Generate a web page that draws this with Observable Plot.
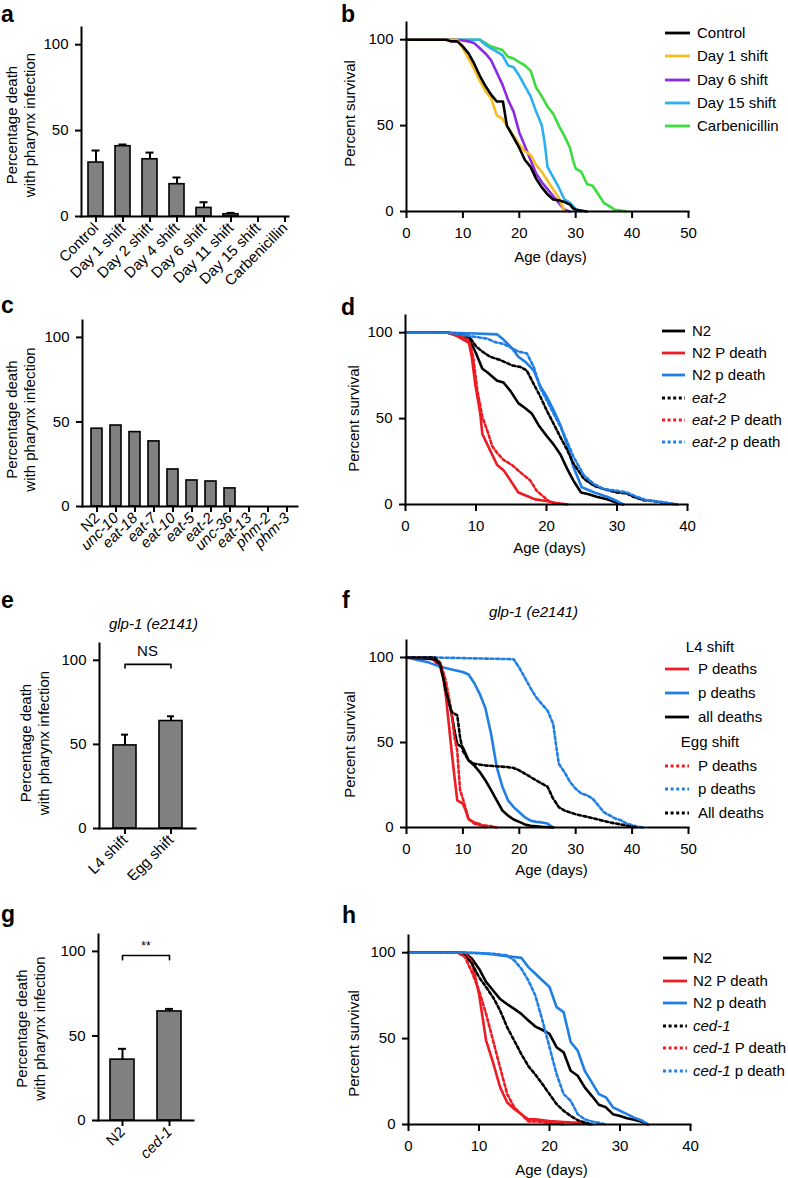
<!DOCTYPE html>
<html><head><meta charset="utf-8">
<script src="https://cdn.jsdelivr.net/npm/d3@7"></script>
<script src="https://cdn.jsdelivr.net/npm/@observablehq/plot@0.6"></script>
<style>
body{margin:0;background:#fff;}
#fig{position:relative;width:788px;height:1178px;overflow:hidden;font-family:Arial,"Liberation Sans",Helvetica,sans-serif;color:#000;}
.panel{position:absolute;}
.letter{position:absolute;font-weight:bold;font-size:23px;line-height:23px;}
.lg{position:absolute;font-size:15px;line-height:18px;white-space:nowrap;}
.sw{position:absolute;}
</style></head>
<body><div id="fig"></div>
<script>
const FONT = 'Arial, "Liberation Sans", Helvetica, sans-serif';
const RED = "#ec1c24", BLUE = "#1f7fe5", BLACK = "#000";

// ---- panel a ----
const shiftGroups = ["Control","Day 1 shift","Day 2 shift","Day 4 shift","Day 6 shift","Day 11 shift","Day 15 shift","Carbenicillin"];
const shiftPharynx = [31.4,40.9,33.3,18.8,5,1.3,0,0];
const shiftPharynxErr = [38.4,41.9,37.2,22.7,8.3,2.1,0,0];

// ---- panel b ----
const bControl = [[0,100],[7,100],[8,99],[9,99],[10,96],[11,92],[12,86],[13,79],[14,73],[15,68],[16,64],[17.1,64],[17.8,50],[19,43],[20,37],[21,30],[22,26],[23,19],[24,14],[25,10],[26,7],[27,6.5],[28,5.5],[29,4],[29.5,2],[30,1],[32,0]];
const bDay1 = [[0,100],[9,100],[10,95],[11,89],[12,83],[13,76],[14,70],[15,66],[16,56],[17,54],[18,49],[19,44],[20,39],[21,35],[22,33],[23,27],[24,23],[25,18],[26,13],[27,8],[28,0]];
const bDay6 = [[0,100],[9,100],[10,99.5],[11,99],[12,98],[13,95],[14,92],[15,88],[16,81],[17,74],[18,65],[19,58],[20,46],[21,38],[22,30],[23,22],[24,17],[25,13],[26,9],[27,5],[28,1],[29,0]];
const bDay15 = [[0,100],[13,100],[14,97],[15,95],[16,93],[17,91],[18,85],[19,84],[20,79],[21,73],[22,67],[23,58],[24,50],[24.5,40],[25,26],[26,20],[27,14],[28,7],[29,5],[30,1.5],[31,0]];
const bCarb = [[0,100],[13,100],[14,98],[15,96],[16,95],[17,94],[18,90],[19,89],[20,87],[21,85],[22,82],[23,72],[24,67],[25,61],[26,57],[27,50],[28,44],[29,37],[29.5,30],[30,25],[31,23],[32,16],[33,15],[34,10],[35,5],[36,3],[37,1],[38,0.5],[39,0]];

// ---- panel c ----
const mutants = ["N2","unc-10","eat-18","eat-7","eat-10","eat-5","eat-2","unc-36","eat-13","phm-2","phm-3"];
const mutantPharynx = [46,47.9,44,38.5,21.9,15.4,14.8,10.7,0,0,0];

// ---- panel d ----
const dN2 = [[0,100],[6,100],[9,96.5],[10,88],[10.9,79],[11.6,77],[13,72],[13.9,71],[14.9,66],[16,59],[17,56],[17.9,53],[18.9,46],[20,40],[21,35],[22,29],[22.9,21],[23.8,14],[24.9,7],[26,6],[27.1,4.5],[28.6,3],[30,1],[30.9,0]];
const dN2P = [[0,100],[6.1,100],[7.3,98],[9,94],[9.4,86],[9.9,70],[10.6,53],[10.9,41],[11.6,35],[13,23],[13.9,20],[14.9,14],[16,7],[17.5,4.5],[18.4,3],[20,2],[21.2,1],[23,0]];
const dN2p = [[0,100],[6.1,100],[10,99.5],[13,99],[13.9,96],[15.1,91],[16,86],[17,83],[18.2,78],[19.1,69],[20,63],[21,55],[22,46],[22.9,35],[23.8,22],[25,10],[26.2,8],[27.1,6.5],[28.6,4.5],[30,2],[30.9,0]];
const dEat2 = [[0,100],[6.1,100],[9,98],[10,92],[10.9,89],[12,86],[13.5,84],[15.1,81],[16.3,80],[17.2,78],[18.2,70],[19.1,63],[20,55],[21,47],[22,39],[22.9,32],[23.8,24],[25.3,15],[26.7,11],[28.1,9],[30,7],[31.4,6.4],[32.3,4.5],[33.8,2.5],[35.2,2],[36.6,1],[38.5,0]];
const dEat2P = [[0,100],[6.1,100],[8,98],[9,95.5],[9.6,86],[10.2,66],[10.9,51],[11.6,43],[12.3,34],[13,30],[13.9,26],[15.1,23],[16.5,18],[17.7,14],[18.6,8],[19.6,4.5],[20.3,2],[21.5,0]];
const dEat2p = [[0,100],[6.1,100],[10,97.5],[11.6,96.5],[12.7,94.5],[13.9,93.5],[15.1,91],[16,89],[17.2,88],[18.2,80],[19.1,68],[20,61],[21,53],[22,45],[22.9,37],[23.8,28],[25.3,17],[26.7,12],[28.1,9],[30,8],[31.4,7],[32.8,4.5],[34.2,2.5],[36.6,1.3],[38.5,0]];

// ---- panel e ----
const glpGroups = ["L4 shift","Egg shift"];
const glpPharynx = [49.4,63.9];
const glpPharynxErr = [55.8,66.7];
const glpBracket = [["L4 shift",95.5],["L4 shift",97.6],["Egg shift",97.6],["Egg shift",95.5]];

// ---- panel f ----
const fL4P = [[0,100],[4,100],[5,98],[6,94],[6.5,88],[7,77],[7.5,61],[8,45],[8.5,30],[9,16],[10,14],[10.5,10],[11,5],[12,3],[13,2],[14,0]];
const fL4p = [[0,100],[2,98.5],[4,97],[6,94.5],[8,93],[10,91.5],[11,90],[12,85],[13,78.5],[14,70],[15,55],[16,35.5],[17,24],[18,16],[19,12],[20,9],[21,6],[22,4],[23,3.3],[24,3],[25,2.3],[26,0]];
const fL4All = [[0,100],[5,99],[6,96],[7,82],[8,67],[8.5,57],[9,49],[10,47],[11,39.5],[12,36.5],[13,32.6],[14,27.7],[15,22],[16,16],[17,10],[18,7],[19,4.7],[20,3.3],[21,1.8],[22,1],[24,0.4],[26,0]];
const fEggP = [[0,100],[5,100],[6,97],[7,86],[8,67],[8.5,53],[9,45],[9.5,22],[10,17],[11,5],[12,2.3],[13,1.4],[14,1.2],[15,0.8],[16,0]];
const fEggp = [[0,100],[5,100],[19,99],[20,94],[21,88],[22,82],[23,76.5],[24,72.6],[25,68.8],[26,61],[26.5,49],[27,37.5],[28,32.6],[29,26.8],[30,22.8],[31,20],[32,19],[33,17],[34,13],[35,9],[36,7.2],[37,5.3],[38,4.3],[39,2.3],[40,1.4],[41,0.4],[42,0]];
const fEggAll = [[0,100],[5,100],[6,96],[7,80],[8,68],[9,66],[9.5,53],[10,45],[11,39.5],[12,37.5],[14,36.5],[16,36],[18,35.5],[19,35],[20,33.6],[22,29.7],[24,25.8],[25,24],[26,17],[27,12],[28,10],[30,7.8],[32,6.3],[34,4.7],[36,3],[38,1.8],[40,0.4],[41,0]];

// ---- panel g ----
const cedGroups = ["N2","ced-1"];
const cedPharynx = [36,64.5];
const cedPharynxErr = [42.4,66];
const cedBracket = [["N2",95],["N2",97.6],["ced-1",97.6],["ced-1",95]];

// ---- panel h ----
const hN2 = [[0,100],[8,100],[9,96.5],[10,90.7],[11,83],[12,78],[13,73],[14,70],[15,67.3],[16,64.4],[17,60.5],[18,57],[19,55],[20,52.7],[21,45],[22,42],[23,31.3],[24,28.4],[25,21.6],[26,16.7],[27,11.5],[28,10],[29,6],[30,5],[31,3.7],[32,2.7],[33,1.7],[34,0]];
const hN2P = [[0,100],[8,100],[9,94.5],[10,76],[11,49],[12,36],[13,21.6],[14,12.8],[15,9],[16,6],[17,3],[18,3],[20,2],[22,1.5],[24,1],[26,0]];
const hN2p = [[0,100],[8,100],[10,99.8],[12,99],[14,98],[16,97],[17,91.6],[18,87.7],[19,83.8],[20,80],[21,68.3],[22,65.4],[23,48],[24,43],[25,31.3],[26,24.5],[27,17.7],[28,15.8],[29,10],[30,8],[31,6],[32,4],[33,2.5],[34,0]];
const hCed = [[0,100],[7,100],[8,98.4],[9,93.6],[10,85.8],[11,80],[12,74],[13,66.3],[14,56.6],[15,48.8],[16,41],[17,34],[18,29],[19,23.5],[20,17.7],[21,11.9],[22,8],[23,5],[24,2.5],[25,1.2],[26,0]];
const hCedP = [[0,100],[7,100],[8,97.5],[9,88.7],[10,78],[11,64.4],[12,48.8],[13,33],[14,17.7],[15,10],[16,6],[17,1.8],[18,1.8],[20,1],[22,0]];
const hCedp = [[0,100],[8,100],[12,99.4],[14,98.4],[15,95.5],[16,90.7],[17,83.8],[18,75],[19,60.5],[20,45],[21,29.4],[22,17.7],[23,13.8],[24,6],[25,3],[26,1.8],[27,1],[28,0]];

const fig = document.getElementById("fig");

function place(el, left, top) {
  el.classList.add("panel");
  el.style.left = left + "px";
  el.style.top = top + "px";
  fig.appendChild(el);
  return el;
}

function yLabel(text, dx, dy) {
  return Plot.text([text], {text: d => d, frameAnchor: "left", textAnchor: "middle", lineAnchor: "middle",
    rotate: -90, dx, dy, lineHeight: 1.2});
}

function barPanel(o) {
  const idx = o.cats.map((_, i) => i);
  const marks = [
    Plot.barY(idx, {x: i => o.cats[i], y: i => o.vals[i], fill: "#808080", stroke: "black", strokeWidth: 1.6}),
  ];
  if (o.errs) {
    const capInset = (o.bw - 8) / 2;
    marks.push(Plot.ruleX(idx.filter(i => o.errs[i] > o.vals[i]), {x: i => o.cats[i], y1: i => o.vals[i], y2: i => o.errs[i], strokeWidth: 2}));
    marks.push(Plot.tickY(idx.filter(i => o.errs[i] > o.vals[i]), {x: i => o.cats[i], y: i => o.errs[i], strokeWidth: 2, insetLeft: capInset, insetRight: capInset}));
  }
  marks.push(
    Plot.axisY({ticks: [0, 50, 100], tickSize: 6, tickPadding: 7, label: null, strokeWidth: 2}),
    Plot.axisX({tickRotate: -45, tickSize: 6, tickPadding: 3, label: null, strokeWidth: 2}),
    Plot.frame({anchor: "left", strokeWidth: 2}),
    Plot.frame({anchor: "bottom", strokeWidth: 2}),
    yLabel("Percentage death\nwith pharynx infection", o.ldx, o.ldy)
  );
  if (o.bracket) {
    marks.push(Plot.line(o.bracket, {x: d => d[0], y: d => d[1], strokeWidth: 1.6}));
    marks.push(Plot.text([o.bracketText], {text: d => d, y: () => o.bracketY, frameAnchor: "middle", fontSize: o.bracketSize}));
  }
  if (o.title) {
    marks.push(Plot.text([o.title], {text: d => d, frameAnchor: "top", lineAnchor: "middle", textAnchor: "middle", dx: o.tdx, dy: o.tdy, fontStyle: "italic"}));
  }
  const p = Plot.plot({
    width: o.width, height: o.height,
    marginLeft: o.ml, marginTop: o.mt, marginBottom: o.mb, marginRight: o.mr,
    x: {type: "band", domain: o.cats, range: o.range, paddingInner: o.pi, paddingOuter: o.po},
    y: {domain: [0, 110]},
    style: {fontFamily: FONT, fontSize: "15px", color: "black", background: "white", overflow: "visible"},
    marks
  });
  if (o.italicExcept) {
    d3.select(p).selectAll('g[aria-label="x-axis tick label"] text')
      .each(function () { if (!o.italicExcept.includes(this.textContent)) this.style.fontStyle = "italic"; });
  }
  return place(p, o.left, o.top);
}

function survPanel(o) {
  const marks = o.series.map(s => Plot.line(s.pts, {x: d => d[0], y: d => d[1], stroke: s.color, strokeWidth: 2.6,
    strokeDasharray: s.dash ? "3,2.6" : undefined}));
  marks.push(
    Plot.axisX({ticks: d3.range(0, o.xMax + 1, 10), tickSize: 7, tickPadding: 9, label: null, strokeWidth: 2}),
    Plot.axisY({ticks: [0, 50, 100], tickSize: 6, tickPadding: 7, label: null, strokeWidth: 2}),
    Plot.frame({anchor: "left", strokeWidth: 2}),
    Plot.frame({anchor: "bottom", strokeWidth: 2}),
    yLabel("Percent survival", o.ldx, o.ldy),
    Plot.text(["Age (days)"], {text: d => d, frameAnchor: "bottom", lineAnchor: "middle", textAnchor: "middle", dx: o.adx, dy: o.ady})
  );
  if (o.title) {
    marks.push(Plot.text([o.title], {text: d => d, frameAnchor: "top", lineAnchor: "middle", textAnchor: "middle", dx: o.tdx, dy: o.tdy, fontStyle: "italic"}));
  }
  const p = Plot.plot({
    width: o.width, height: o.height,
    marginLeft: o.ml, marginTop: o.mt, marginBottom: o.mb, marginRight: o.mr,
    x: {domain: [0, o.xMax]},
    y: {domain: [0, 110]},
    style: {fontFamily: FONT, fontSize: "15px", color: "black", background: "white", overflow: "visible"},
    marks
  });
  return place(p, o.left, o.top);
}

function letter(ch, left, baseline) {
  const d = document.createElement("div");
  d.className = "letter";
  d.textContent = ch;
  d.style.left = left + "px";
  d.style.top = (baseline - 19.5) + "px";
  fig.appendChild(d);
}

function legend(rows, x0, x1, tx) {
  rows.forEach(r => {
    if (r.header) {
      const t = document.createElement("div");
      t.className = "lg";
      t.textContent = r.header;
      t.style.left = (r.cx - 60) + "px"; t.style.width = "120px"; t.style.textAlign = "center";
      t.style.top = (r.y - 9) + "px";
      fig.appendChild(t);
      return;
    }
    const ns = "http://www.w3.org/2000/svg";
    const sv = document.createElementNS(ns, "svg");
    sv.setAttribute("width", x1 - x0); sv.setAttribute("height", 6);
    sv.setAttribute("class", "sw");
    sv.style.left = x0 + "px"; sv.style.top = (r.y - 3) + "px";
    const ln = document.createElementNS(ns, "line");
    ln.setAttribute("x1", 0); ln.setAttribute("x2", x1 - x0); ln.setAttribute("y1", 3); ln.setAttribute("y2", 3);
    ln.setAttribute("stroke", r.color); ln.setAttribute("stroke-width", 2.8);
    if (r.dash) ln.setAttribute("stroke-dasharray", "3,2.6");
    sv.appendChild(ln);
    fig.appendChild(sv);
    const t = document.createElement("div");
    t.className = "lg";
    t.innerHTML = r.label;
    t.style.left = tx + "px"; t.style.top = (r.y - 9) + "px";
    fig.appendChild(t);
  });
}

// a
barPanel({cats: shiftGroups, vals: shiftPharynx, errs: shiftPharynxErr, bw: 15,
  left: 0, top: 0, width: 300, height: 290, ml: 81, mt: 27, mb: 74, mr: 12,
  range: [81, 299], pi: 0.45, po: 0.2, ldx: -61, ldy: 3});
// b
const bSeries = [
  {name: "Control", pts: bControl, color: BLACK},
  {name: "Day 1 shift", pts: bDay1, color: "#f6bd22"},
  {name: "Day 6 shift", pts: bDay6, color: "#8a2be2"},
  {name: "Day 15 shift", pts: bDay15, color: "#2cb0ee"},
  {name: "Carbenicillin", pts: bCarb, color: "#3bdc3b"}
];
survPanel({series: [bSeries[4], bSeries[3], bSeries[2], bSeries[1], bSeries[0]], xMax: 50,
  left: 330, top: 0, width: 458, height: 290, ml: 76, mr: 100, mt: 22, mb: 79,
  ldx: -57, ldy: -3.5, adx: 3, ady: 46});
legend(bSeries.map((s, i) => ({y: 33 + i * 23.3, color: s.color, label: s.name})), 665, 690, 697);

// c
barPanel({cats: mutants, vals: mutantPharynx, bw: 11.3,
  left: 0, top: 290, width: 300, height: 300, ml: 82, mt: 30, mb: 84, mr: 3,
  range: [82, 300], pi: 0.43, po: 0.17, ldx: -62, ldy: 6, italicExcept: ["N2"]});
// d
const dSeries = [
  {pts: dN2, color: BLACK, label: "N2"},
  {pts: dN2P, color: RED, label: "N2 P death"},
  {pts: dN2p, color: BLUE, label: "N2 p death"},
  {pts: dEat2, color: BLACK, dash: true, label: "<i>eat-2</i>"},
  {pts: dEat2P, color: RED, dash: true, label: "<i>eat-2</i> P death"},
  {pts: dEat2p, color: BLUE, dash: true, label: "<i>eat-2</i> p death"}
];
survPanel({series: dSeries, xMax: 40,
  left: 330, top: 290, width: 458, height: 300, ml: 75, mr: 101, mt: 25, mb: 86,
  ldx: -52, ldy: 8.5, adx: 3, ady: 44});
legend(dSeries.map((s, i) => ({y: 331 + i * 22.2, color: s.color, dash: s.dash, label: s.label})), 662, 685, 692);

// e
barPanel({cats: glpGroups, vals: glpPharynx, errs: glpPharynxErr, bw: 24,
  left: 0, top: 590, width: 300, height: 290, ml: 99, mt: 53, mb: 52, mr: 105,
  range: [99, 196], pi: 0.49, po: 0.28, ldx: -65, ldy: 7,
  bracket: glpBracket, bracketText: "NS", bracketY: 105.5, bracketSize: 15,
  title: "glp-1 (e2141)", tdx: 6, tdy: -19});
// f
const fSeries = [
  {pts: fL4P, color: RED, label: "P deaths"},
  {pts: fL4p, color: BLUE, label: "p deaths"},
  {pts: fL4All, color: BLACK, label: "all deaths"},
  {pts: fEggP, color: RED, dash: true, label: "P deaths"},
  {pts: fEggp, color: BLUE, dash: true, label: "p deaths"},
  {pts: fEggAll, color: BLACK, dash: true, label: "All deaths"}
];
survPanel({series: fSeries, xMax: 50,
  left: 330, top: 590, width: 458, height: 290, ml: 76, mr: 100, mt: 50, mb: 53,
  ldx: -57, ldy: 10.5, adx: 4, ady: 43, title: "glp-1 (e2141)", tdx: -14, tdy: -28});
const fYs = [669, 693, 717, 766, 789, 813];
legend([{header: "L4 shift", cx: 710, y: 647}, {header: "Egg shift", cx: 710, y: 742}]
  .concat(fSeries.map((s, i) => ({y: fYs[i], color: s.color, dash: s.dash, label: s.label}))), 665, 689, 698);

// g
barPanel({cats: cedGroups, vals: cedPharynx, errs: cedPharynxErr, bw: 24,
  left: 0, top: 880, width: 300, height: 298, ml: 98, mt: 54, mb: 58, mr: 107,
  range: [98, 192], pi: 0.5, po: 0.23, ldx: -68, ldy: 1, italicExcept: ["N2"],
  bracket: cedBracket, bracketText: "**", bracketY: 103, bracketSize: 12});
// h
const hSeries = [
  {pts: hN2, color: BLACK, label: "N2"},
  {pts: hN2P, color: RED, label: "N2 P death"},
  {pts: hN2p, color: BLUE, label: "N2 p death"},
  {pts: hCed, color: BLACK, dash: true, label: "<i>ced-1</i>"},
  {pts: hCedP, color: RED, dash: true, label: "<i>ced-1</i> P death"},
  {pts: hCedp, color: BLUE, dash: true, label: "<i>ced-1</i> p death"}
];
survPanel({series: hSeries, xMax: 40,
  left: 330, top: 880, width: 458, height: 298, ml: 78, mr: 98, mt: 55, mb: 54,
  ldx: -55, ldy: 13.5, adx: 2, ady: 46});
legend(hSeries.map((s, i) => ({y: 958 + i * 22.6, color: s.color, dash: s.dash, label: s.label})), 663, 687, 693);

letter("a", 1, 22); letter("b", 341, 22);
letter("c", 1, 313); letter("d", 341, 315);
letter("e", 1, 608); letter("f", 342, 608);
letter("g", 1, 922); letter("h", 342, 923);
</script>
</body></html>
